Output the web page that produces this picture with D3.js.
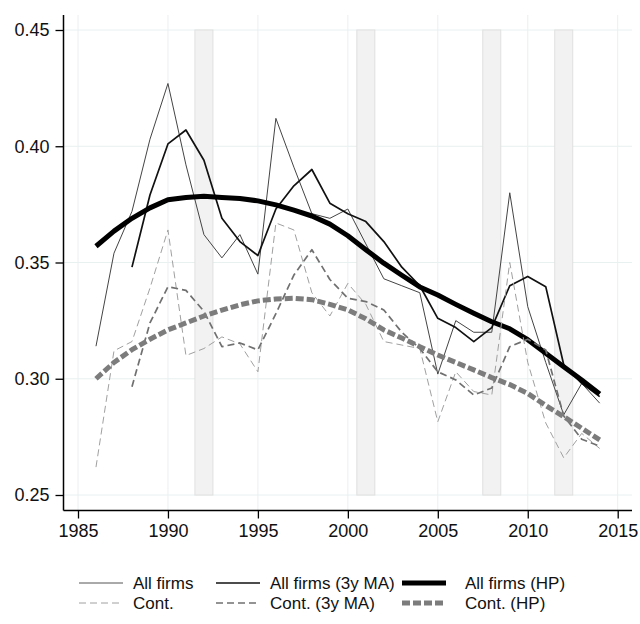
<!DOCTYPE html>
<html>
<head>
<meta charset="utf-8">
<script src="https://cdn.jsdelivr.net/npm/d3@7"></script>
<style>
  body { margin: 0; background: #fff; }
  svg { display: block; font-family: "Liberation Sans", Arial, sans-serif; }
</style>
</head>
<body>
<svg id="chart" width="640" height="624"></svg>
<script>
// data zone
const years = [1986, 1987, 1988, 1989, 1990, 1991, 1992, 1993, 1994, 1995,
  1996, 1997, 1998, 1999, 2000, 2001, 2002, 2003, 2004, 2005,
  2006, 2007, 2008, 2009, 2010, 2011, 2012, 2013, 2014]
const maYears = years.slice(2) // moving averages start in 1988

const allFirms = [0.314, 0.354, 0.372, 0.403, 0.427, 0.392, 0.362, 0.352, 0.362, 0.345,
  0.412, 0.391, 0.371, 0.369, 0.373, 0.358, 0.343, 0.340, 0.337, 0.302,
  0.325, 0.320, 0.320, 0.380, 0.331, 0.307, 0.2845, 0.298, 0.2895]
const allFirmsMA = [0.348, 0.379, 0.401, 0.407, 0.394, 0.369, 0.359, 0.353,
  0.373, 0.383, 0.390, 0.3755, 0.371, 0.3676, 0.359, 0.348, 0.340, 0.326,
  0.322, 0.316, 0.322, 0.340, 0.344, 0.3396, 0.306, 0.298, 0.2923]
const allFirmsHP = [0.357, 0.3635, 0.369, 0.3735, 0.377, 0.378, 0.3785, 0.378, 0.3775, 0.3765,
  0.3748, 0.3725, 0.370, 0.3665, 0.3615, 0.3555, 0.3497, 0.3445, 0.3395, 0.336,
  0.332, 0.3282, 0.3245, 0.3215, 0.3168, 0.311, 0.3052, 0.2995, 0.2935]
const cont = [0.262, 0.312, 0.316, 0.339, 0.364, 0.310, 0.313, 0.318, 0.315, 0.303,
  0.367, 0.364, 0.337, 0.327, 0.341, 0.332, 0.316, 0.3145, 0.313, 0.2815,
  0.303, 0.2945, 0.293, 0.350, 0.307, 0.281, 0.266, 0.2765, 0.270]
const contMA = [0.2966, 0.324, 0.3396, 0.338, 0.329, 0.3138, 0.3154, 0.3124,
  0.328, 0.3446, 0.3555, 0.3427, 0.3346, 0.3332, 0.3296, 0.320, 0.313, 0.303,
  0.2995, 0.293, 0.296, 0.3138, 0.317, 0.3124, 0.284, 0.274, 0.271]
const contHP = [0.300, 0.307, 0.3125, 0.317, 0.321, 0.324, 0.327, 0.3295, 0.3318, 0.3335,
  0.3343, 0.3346, 0.334, 0.332, 0.3296, 0.3258, 0.321, 0.3175, 0.3138, 0.3102,
  0.307, 0.3038, 0.3005, 0.2975, 0.2937, 0.2885, 0.2837, 0.2787, 0.2737]

const recessionStart = [1991.5, 2000.5, 2007.5, 2011.5]
const recessionEnd = [1992.5, 2001.5, 2008.5, 2012.5]

const xTicks = [1985, 1990, 1995, 2000, 2005, 2010, 2015]
const yTicks = [0.25, 0.30, 0.35, 0.40, 0.45]

const legendLabels = ["All firms", "All firms (3y MA)", "All firms (HP)",
  "Cont.", "Cont. (3y MA)", "Cont. (HP)"]


// series styles
const styles = [
  { color: "#444", width: 1, dash: null },
  { color: "#111", width: 1.7, dash: null },
  { color: "#000", width: 5, dash: null },
  { color: "#a0a0a0", width: 1, dash: "7,4" },
  { color: "#707070", width: 1.7, dash: "7,4" },
  { color: "#7c7c7c", width: 5, dash: "8,3" }
]

const seriesList = [
  { x: years, y: allFirms },
  { x: maYears, y: allFirmsMA },
  { x: years, y: allFirmsHP },
  { x: years, y: cont },
  { x: maYears, y: contMA },
  { x: years, y: contHP }
]


// scales zone
const box = { left: 63.5, right: 632, top: 15, bottom: 510.5 }
const x = d3.scaleLinear().domain([1985, 2015]).range([78, 617.7])
const y = d3.scaleLinear().domain([0.25, 0.45]).range([495, 30])

const svg = d3.select("#chart")

// grid
const grid = svg.append("g").attr("stroke", "#e8f0f0").attr("stroke-width", 1)
grid.selectAll(".vg")
  .data(xTicks)
  .join("line")
  .attr("x1", d => x(d)).attr("x2", d => x(d))
  .attr("y1", box.top).attr("y2", box.bottom)
grid.selectAll(".hg")
  .data(yTicks)
  .join("line")
  .attr("x1", box.left).attr("x2", box.right)
  .attr("y1", d => y(d)).attr("y2", d => y(d))

// recession bars
svg.append("g")
  .selectAll("rect")
  .data(recessionStart)
  .join("rect")
  .attr("x", d => x(d))
  .attr("width", (d, i) => x(recessionEnd[i]) - x(d))
  .attr("y", y(0.45))
  .attr("height", y(0.25) - y(0.45))
  .attr("fill", "#f2f2f2")
  .attr("stroke", "#e0e0e0")
  .attr("stroke-width", 1)

// lines
const line = s => d3.line()
  .x((d, i) => x(s.x[i]))
  .y(d => y(d))(s.y)

svg.append("g")
  .selectAll("path")
  .data(seriesList)
  .join("path")
  .attr("d", line)
  .attr("fill", "none")
  .attr("stroke", (d, i) => styles[i].color)
  .attr("stroke-width", (d, i) => styles[i].width)
  .attr("stroke-dasharray", (d, i) => styles[i].dash)
  .attr("stroke-linejoin", "round")

// axes
const xAxis = svg.append("g")
  .attr("transform", `translate(0,${box.bottom})`)
  .call(d3.axisBottom(x).tickValues(xTicks).tickFormat(d3.format("d")).tickSize(8).tickPadding(6))
const yAxis = svg.append("g")
  .attr("transform", `translate(${box.left},0)`)
  .call(d3.axisLeft(y).tickValues(yTicks).tickFormat(d3.format(".2f")).tickSize(8).tickPadding(6))

;[xAxis, yAxis].forEach(ax => {
  ax.select(".domain").remove()
  ax.selectAll("line").attr("stroke", "#000").attr("stroke-width", 1.3)
  ax.selectAll("text").attr("font-size", 18).attr("fill", "#111")
    .attr("font-family", "'Liberation Sans', Arial, sans-serif")
})

svg.append("line")
  .attr("x1", box.left).attr("x2", box.left)
  .attr("y1", box.top).attr("y2", box.bottom)
  .attr("stroke", "#000").attr("stroke-width", 1.5)
svg.append("line")
  .attr("x1", box.left).attr("x2", box.right)
  .attr("y1", box.bottom).attr("y2", box.bottom)
  .attr("stroke", "#000").attr("stroke-width", 1.5)

// legend zone
const legendCols = [79, 216, 402]
const legendRows = [583, 603]
const legend = svg.append("g")
  .selectAll("g")
  .data(legendLabels)
  .join("g")
  .attr("transform", (d, i) => `translate(${legendCols[i % 3]},${legendRows[Math.floor(i / 3)]})`)

legend.append("line")
  .attr("x1", 0).attr("x2", 44)
  .attr("stroke", (d, i) => i === 0 ? "#555" : styles[i].color)
  .attr("stroke-width", (d, i) => styles[i].width)
  .attr("stroke-dasharray", (d, i) => styles[i].dash)

legend.append("text")
  .attr("x", (d, i) => i % 3 === 2 ? 63 : 54)
  .attr("dy", "0.35em")
  .attr("font-size", 17)
  .attr("fill", "#111")
  .text(d => d)
</script>
</body>
</html>
